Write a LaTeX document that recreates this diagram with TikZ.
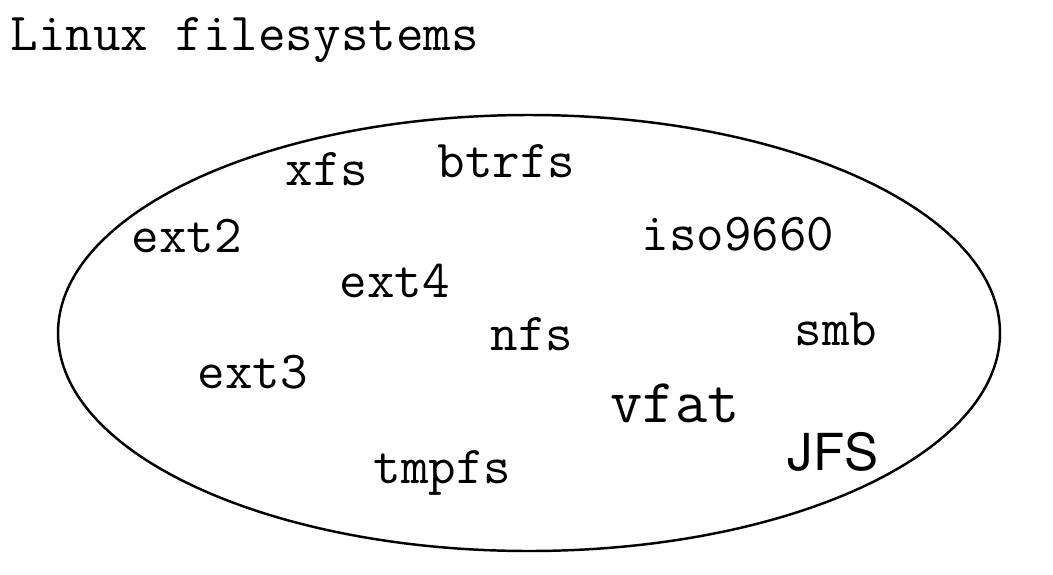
\documentclass[tikz,border=0pt]{standalone}
\usepackage{fontspec}
\newfontfamily\jfsfont{TeX Gyre Heros}
\usetikzlibrary{positioning}

\begin{document}
\begin{tikzpicture}[
    x=0.01cm,
    y=-0.01cm,
    fsname/.style={
        anchor=base west,
        inner sep=0pt,
        font=\fontsize{15.2}{18}\selectfont\ttfamily
    },
    bigname/.style={fsname, font=\fontsize{17.8}{21}\selectfont\ttfamily},
    sansname/.style={fsname, font=\fontsize{14.5}{17}\selectfont\jfsfont},
    titletext/.style={fsname},
    fsset/.style={draw, line width=0.7pt}
]

\useasboundingbox (0,0) rectangle (1053,575);

\node[titletext] (title) at (10,50) {Linux filesystems};

\draw[fsset] (529,333) ellipse [x radius=471, y radius=218];

\node[fsname] (xfs) at (285,185) {xfs};
\node[fsname] (btrfs) at (437,177) {btrfs};
\node[fsname] (ext2) at (131,252) {ext2};
\node[fsname] (iso) at (641,250) {iso9660};
\node[fsname] (ext4) at (339,297) {ext4};
\node[fsname] (nfs) at (490,350) {nfs};
\node[fsname] (smb) at (794,345) {smb};
\node[fsname] (ext3) at (197,388) {ext3};
\node[bigname] (vfat) at (610,422) {vfat};
\node[sansname] (jfs) at (787,470) {JFS};
\node[fsname] (tmpfs) at (373,483) {tmpfs};

\end{tikzpicture}
\end{document}
